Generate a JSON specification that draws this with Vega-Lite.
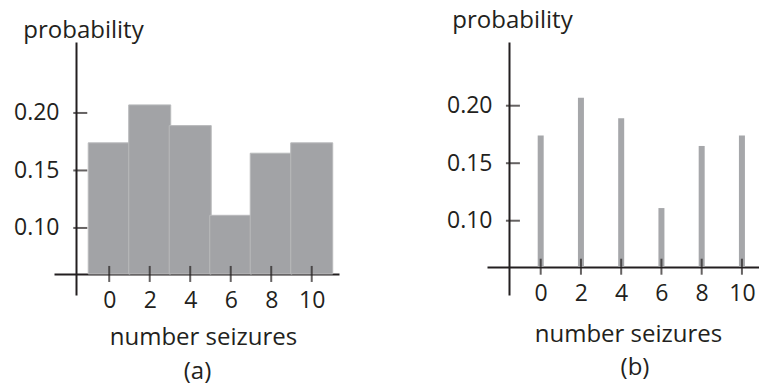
{
  "$schema": "https://vega.github.io/schema/vega-lite/v6.json",
  "padding": {"left": 13, "top": 8, "right": 0, "bottom": 3},
  "background": "white",
  "datasets": {
    "probs": [
      {"n": 0, "p": 0.174},
      {"n": 2, "p": 0.207},
      {"n": 4, "p": 0.189},
      {"n": 6, "p": 0.111},
      {"n": 8, "p": 0.165},
      {"n": 10, "p": 0.174}
    ],
    "yticks": [{"p": 0.10}, {"p": 0.15}, {"p": 0.20}]
  },
  "spacing": 148,
  "bounds": "flush",
  "hconcat": [
    {
      "width": 285,
      "height": 253,
      "title": {"text": "(a)", "orient": "bottom", "anchor": "middle", "frame": "group", "baseline": "alphabetic", "offset": 30, "dx": 1},
      "layer": [
        {
          "data": {"name": "probs"},
          "mark": {"type": "bar", "size": 42, "color": "#a2a3a6", "stroke": "#b9babc", "strokeWidth": 1},
          "encoding": {
            "x": {"field": "n", "type": "quantitative",
              "scale": {"domain": [-2.48, 11.1], "nice": false, "zero": false},
              "axis": {"values": [0, 2, 4, 6, 8, 10], "offset": -21, "title": "number seizures", "titleX": 149, "titleY": 70, "titleBaseline": "alphabetic", "titleAlign": "center", "tickSize": 8, "tickOpacity": 0, "labelPadding": 7}},
            "y": {"field": "p", "type": "quantitative",
              "scale": {"domain": [0.0417, 0.2617], "nice": false, "zero": false},
              "axis": {"values": [0.10, 0.15, 0.20], "format": ".2f", "offset": -22, "title": "probability", "titleAngle": 0, "titleX": 7, "titleY": -5, "titleAlign": "center", "titleBaseline": "alphabetic", "tickSize": 8, "tickOpacity": 0, "labelPadding": 9}},
            "y2": {"datum": 0.06}
          }
        },
        {
          "data": {"name": "probs"},
          "mark": {"type": "tick", "orient": "vertical", "size": 16, "thickness": 2, "color": "#231f20"},
          "encoding": {
            "x": {"field": "n", "type": "quantitative"},
            "y": {"datum": 0.06, "type": "quantitative"}
          }
        },
        {
          "data": {"name": "yticks"},
          "mark": {"type": "tick", "orient": "horizontal", "size": 14, "thickness": 2, "color": "#231f20"},
          "encoding": {
            "x": {"datum": -1.43, "type": "quantitative"},
            "y": {"field": "p", "type": "quantitative"}
          }
        }
      ]
    },
    {
      "width": 272,
      "height": 253,
      "title": {"text": "(b)", "orient": "bottom", "anchor": "middle", "frame": "group", "baseline": "alphabetic", "offset": 29, "dx": 12},
      "layer": [
        {
          "data": {"name": "probs"},
          "mark": {"type": "bar", "size": 6, "color": "#a6a7aa"},
          "encoding": {
            "x": {"field": "n", "type": "quantitative",
              "scale": {"domain": [-2.42, 10.6], "nice": false, "zero": false},
              "axis": {"values": [0, 2, 4, 6, 8, 10], "offset": -28, "title": "number seizures", "titleX": 141, "titleY": 74, "titleBaseline": "alphabetic", "titleAlign": "center", "tickSize": 8, "tickOpacity": 0, "labelPadding": 7}},
            "y": {"field": "p", "type": "quantitative",
              "scale": {"domain": [0.0354, 0.2554], "nice": false, "zero": false},
              "axis": {"values": [0.10, 0.15, 0.20], "format": ".2f", "offset": -22, "title": "probability", "titleAngle": 0, "titleX": 3, "titleY": -15, "titleAlign": "center", "titleBaseline": "alphabetic", "tickSize": 8, "tickOpacity": 0, "labelPadding": 9}},
            "y2": {"datum": 0.06}
          }
        },
        {
          "data": {"name": "probs"},
          "mark": {"type": "tick", "orient": "vertical", "size": 16, "thickness": 2, "color": "#231f20"},
          "encoding": {
            "x": {"field": "n", "type": "quantitative"},
            "y": {"datum": 0.06, "type": "quantitative"}
          }
        },
        {
          "data": {"name": "yticks"},
          "mark": {"type": "tick", "orient": "horizontal", "size": 14, "thickness": 2, "color": "#231f20"},
          "encoding": {
            "x": {"datum": -1.38, "type": "quantitative"},
            "y": {"field": "p", "type": "quantitative"}
          }
        }
      ]
    }
  ],
  "config": {
    "font": "Open Sans",
    "view": {"stroke": null},
    "axis": {
      "grid": false,
      "domainColor": "#231f20",
      "domainWidth": 2,
      "labelColor": "#231f20",
      "labelFontSize": 23,
      "labelFont": "Open Sans",
      "labelOverlap": false,
      "labelFlush": false,
      "titleColor": "#231f20",
      "titleFontSize": 24,
      "titleFont": "Open Sans",
      "titleFontWeight": "normal",
      "titlePadding": 0,
      "zindex": 1
    },
    "title": {"fontSize": 24, "fontWeight": "normal", "color": "#231f20", "font": "Open Sans"}
  }
}
